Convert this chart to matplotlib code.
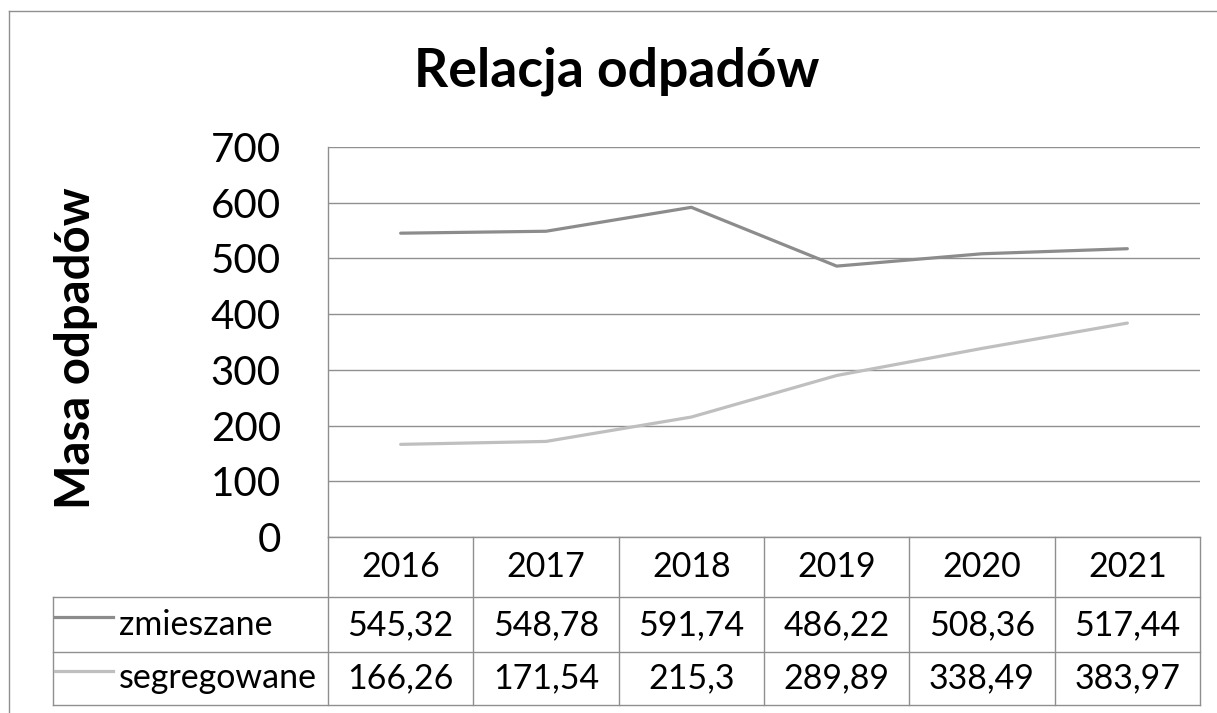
import matplotlib
matplotlib.use("Agg")
import matplotlib.pyplot as plt
from matplotlib.lines import Line2D

# ── data ──────────────────────────────────────────────────────────────────────
years        = ["2016", "2017", "2018", "2019", "2020", "2021"]
zmieszane    = [545.32, 548.78, 591.74, 486.22, 508.36, 517.44]
segregowane  = [166.26, 171.54, 215.3, 289.89, 338.49, 383.97]
series_names = ["zmieszane", "segregowane"]
yticks       = [0, 100, 200, 300, 400, 500, 600, 700]

colors = ["#8c8c8c", "#bfbfbf"]
grid_c = "#8f8f8f"
FONT   = "Lato"

W, H = 1217, 713
fig = plt.figure(figsize=(W / 100, H / 100), dpi=100)
plt.rcParams["font.family"] = [FONT, "DejaVu Sans"]

def fx(px): return px / W
def fy(py): return 1 - py / H

# outer chart border (only left and top visible)
fig.add_artist(Line2D([fx(8.5), fx(8.5)], [fy(10.5), 0], color=grid_c, lw=1))
fig.add_artist(Line2D([fx(8.5), 1], [fy(10.5), fy(10.5)], color=grid_c, lw=1))

# plot area
L, R, T, B = 328, 1200, 147, 537
ax = fig.add_axes([fx(L), fy(B), fx(R - L), (B - T) / H])
x = list(range(len(years)))
ax.plot(x, zmieszane, color=colors[0], lw=2.3, solid_capstyle="round")
ax.plot(x, segregowane, color=colors[1], lw=2.3, solid_capstyle="round")
ax.set_xlim(-0.5, len(years) - 0.5)
ax.set_ylim(0, 700)
ax.set_yticks(yticks)
ax.set_yticklabels([str(t) for t in yticks], fontsize=29)
ax.tick_params(axis="y", length=0, pad=34)
ax.set_xticks([])
ax.grid(axis="y", color=grid_c, lw=1)
for s in ["top", "right", "bottom"]:
    ax.spines[s].set_visible(False)
ax.spines["left"].set_color(grid_c)
ax.spines["left"].set_linewidth(1)

# ── data table ───────────────────────────────────────────────────────────────
rows_px = [537, 597, 652, 705]
leg_left = 53
col_w = (R - L) / len(years)
TS = 24.5

def hline(x0, x1, y):
    fig.add_artist(Line2D([fx(x0), fx(x1)], [fy(y), fy(y)], color=grid_c, lw=1))

def vline(xp, y0, y1):
    fig.add_artist(Line2D([fx(xp), fx(xp)], [fy(y0), fy(y1)], color=grid_c, lw=1))

hline(L, R, rows_px[0])
for y in rows_px[1:]:
    hline(leg_left, R, y)
for i in range(len(years) + 1):
    vline(L + i * col_w, rows_px[0], rows_px[3])
vline(leg_left, rows_px[1], rows_px[3])

base_y = [577, 635, 688]
for i, yr in enumerate(years):
    cx = L + (i + 0.5) * col_w
    fig.text(fx(cx), fy(base_y[0]), yr, ha="center", va="baseline", fontsize=TS)
    fig.text(fx(cx), fy(base_y[1]), f"{zmieszane[i]:g}".replace(".", ","),
             ha="center", va="baseline", fontsize=TS)
    fig.text(fx(cx), fy(base_y[2]), f"{segregowane[i]:g}".replace(".", ","),
             ha="center", va="baseline", fontsize=TS)

for j, name in enumerate(series_names):
    yc = (rows_px[j + 1] + rows_px[j + 2]) / 2 - 8
    fig.add_artist(Line2D([fx(55), fx(113)], [fy(yc), fy(yc)], color=colors[j], lw=2.3))
    fig.text(fx(119), fy(base_y[j + 1]), name, ha="left", va="baseline", fontsize=TS)

# titles
fig.text(fx(617), fy(87), "Relacja odpadów", ha="center", va="baseline",
         fontsize=38.5, fontweight="bold")
fig.text(fx(76), fy(348), "Masa odpadów", ha="center", va="center",
         rotation=90, fontsize=34, fontweight="bold")

fig.savefig("out.png", dpi=100)
